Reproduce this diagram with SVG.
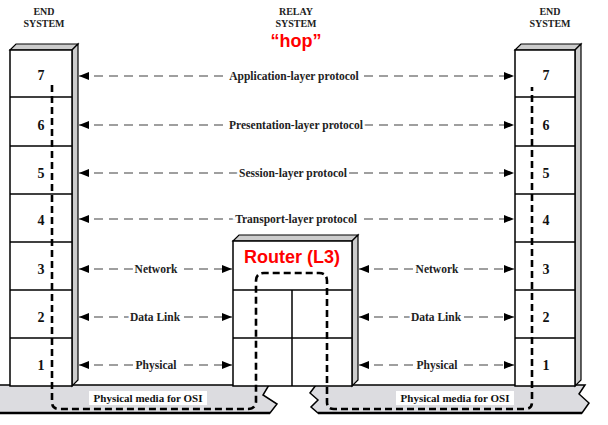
<svg xmlns="http://www.w3.org/2000/svg" width="608" height="425" viewBox="0 0 608 425">
<defs>
<marker id="ah" viewBox="0 0 10 8" refX="10" refY="4" markerWidth="10" markerHeight="8" markerUnits="userSpaceOnUse" orient="auto-start-reverse">
<path d="M0,0 L10,4 L0,8 z" fill="#000"/>
</marker>
<style>
.hdr{font-family:"Liberation Serif",serif;font-weight:bold;font-size:10px;fill:#222;text-anchor:middle}
.num{font-family:"Liberation Serif",serif;font-weight:bold;font-size:14px;fill:#111;text-anchor:middle}
.lbl{font-family:"Liberation Serif",serif;font-weight:bold;font-size:11.5px;fill:#222;text-anchor:middle;paint-order:stroke;stroke:#fff;stroke-width:5px}
.red{font-family:"Liberation Sans",Arial,sans-serif;font-weight:bold;fill:#f00;text-anchor:middle}
.box{fill:#fff;stroke:#000;stroke-width:1.5}
.side{fill:#ccc;stroke:#000;stroke-width:1.2}
.div{stroke:#000;stroke-width:1.5}
.arr{stroke:#808080;stroke-width:1.5;stroke-dasharray:9 6;fill:none;marker-start:url(#ah);marker-end:url(#ah)}
.band{fill:#dcdce0;stroke:#000;stroke-width:1.5}
.path{fill:none;stroke:#000;stroke-width:2.6;stroke-dasharray:7 4}
.media{font-family:"Liberation Serif",serif;font-weight:bold;font-size:11px;fill:#111;text-anchor:middle}
</style>
</defs>

<g id="media-left">
<path class="band" d="M-2,385 L269,385 L263,395 L277,404 L270,413 L-2,413 z"/>
<line x1="0" y1="413" x2="270" y2="413" stroke="#000" stroke-width="2.5"/>
<rect x="89" y="391" width="118" height="14" fill="#fff"/>
<text class="media" x="148" y="402">Physical media for OSI</text>
</g>
<g id="media-right">
<path class="band" d="M316,385 L585,385 L579,394 L589,403 L582,413 L318,413 L311,407 L318,400 L310,393 z"/>
<line x1="318" y1="413" x2="582" y2="413" stroke="#000" stroke-width="2.5"/>
<rect x="396" y="391" width="118" height="14" fill="#fff"/>
<text class="media" x="455" y="402">Physical media for OSI</text>
</g>

<g id="end-system-left">
<text class="hdr" x="44" y="15">END</text>
<text class="hdr" x="44" y="27">SYSTEM</text>
<path class="side" d="M10,50 L16,44 L78,44 L72,50 z"/>
<path class="side" d="M72,50 L78,44 L78,380 L72,386 z"/>
<rect class="box" x="10" y="50" width="62" height="336"/>
<line class="div" x1="10" y1="97" x2="72" y2="97"/>
<line class="div" x1="10" y1="146" x2="72" y2="146"/>
<line class="div" x1="10" y1="194" x2="72" y2="194"/>
<line class="div" x1="10" y1="242" x2="72" y2="242"/>
<line class="div" x1="10" y1="290" x2="72" y2="290"/>
<line class="div" x1="10" y1="338" x2="72" y2="338"/>
<text class="num" x="41" y="80">7</text>
<text class="num" x="41" y="130">6</text>
<text class="num" x="41" y="178">5</text>
<text class="num" x="41" y="225">4</text>
<text class="num" x="41" y="274">3</text>
<text class="num" x="41" y="322">2</text>
<text class="num" x="41" y="370">1</text>
</g>

<g id="end-system-right">
<text class="hdr" x="550" y="15">END</text>
<text class="hdr" x="550" y="27">SYSTEM</text>
<path class="side" d="M515,50 L521,44 L581,44 L575,50 z"/>
<path class="side" d="M575,50 L581,44 L581,380 L575,386 z"/>
<rect class="box" x="515" y="50" width="60" height="336"/>
<line class="div" x1="515" y1="97" x2="575" y2="97"/>
<line class="div" x1="515" y1="146" x2="575" y2="146"/>
<line class="div" x1="515" y1="194" x2="575" y2="194"/>
<line class="div" x1="515" y1="242" x2="575" y2="242"/>
<line class="div" x1="515" y1="290" x2="575" y2="290"/>
<line class="div" x1="515" y1="338" x2="575" y2="338"/>
<text class="num" x="546" y="80">7</text>
<text class="num" x="546" y="130">6</text>
<text class="num" x="546" y="178">5</text>
<text class="num" x="546" y="225">4</text>
<text class="num" x="546" y="274">3</text>
<text class="num" x="546" y="322">2</text>
<text class="num" x="546" y="370">1</text>
</g>

<g id="relay-system">
<text class="hdr" x="296" y="15">RELAY</text>
<text class="hdr" x="296" y="27">SYSTEM</text>
<text class="red" x="296" y="47" font-size="18">“hop”</text>
<path class="side" d="M233,241 L239,235 L358,235 L352,241 z"/>
<path class="side" d="M352,241 L358,235 L358,380 L352,386 z"/>
<rect class="box" x="233" y="241" width="119" height="145"/>
<line class="div" x1="233" y1="290" x2="352" y2="290"/>
<line class="div" x1="233" y1="338" x2="352" y2="338"/>
<line class="div" x1="292" y1="290" x2="292" y2="386"/>
<text class="red" x="292" y="263" font-size="18">Router (L3)</text>
</g>

<g id="connectors">
<line class="arr" x1="79" y1="76" x2="514" y2="76"/>
<line class="arr" x1="79" y1="125" x2="514" y2="125"/>
<line class="arr" x1="79" y1="173" x2="514" y2="173"/>
<line class="arr" x1="79" y1="219" x2="514" y2="219"/>
<line class="arr" x1="79" y1="269" x2="232" y2="269"/>
<line class="arr" x1="79" y1="317" x2="232" y2="317"/>
<line class="arr" x1="79" y1="365" x2="232" y2="365"/>
<line class="arr" x1="359" y1="269" x2="514" y2="269"/>
<line class="arr" x1="359" y1="317" x2="514" y2="317"/>
<line class="arr" x1="359" y1="365" x2="514" y2="365"/>
<text class="lbl" x="294" y="80">Application-layer protocol</text>
<text class="lbl" x="296" y="129">Presentation-layer protocol</text>
<text class="lbl" x="293" y="177">Session-layer protocol</text>
<text class="lbl" x="296" y="223">Transport-layer protocol</text>
<text class="lbl" x="156" y="273">Network</text>
<text class="lbl" x="155" y="321">Data Link</text>
<text class="lbl" x="156" y="369">Physical</text>
<text class="lbl" x="437" y="273">Network</text>
<text class="lbl" x="436" y="321">Data Link</text>
<text class="lbl" x="437" y="369">Physical</text>
<path class="path" d="M52,85 L52,402 Q52,409 59,409 L248,409 Q255,409 256,402 L256,281 Q256,273 264,273 L319,273 Q327,273 327,281 L327,402 Q327,409 334,409 L525,409 Q532,409 532,402 L532,87"/>
</g>
</svg>
